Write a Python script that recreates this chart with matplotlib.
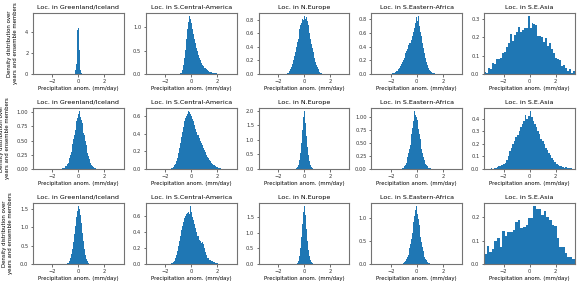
import numpy as np
import matplotlib
matplotlib.use("Agg")
import matplotlib.pyplot as plt
from matplotlib.ticker import MaxNLocator

regions = ["Greenland/Iceland", "S.Central-America", "N.Europe", "S.Eastern-Africa", "S.E.Asia"]
ylabel_text = "Density distribution over\nyears and ensemble members"
xlabel_text = "Precipitation anom. (mm/day)"

# ---- row 1 ----
r1_starts = [-0.30, -0.90, -1.40, -2.00, -3.50]
r1_widths = [0.05, 0.08, 0.07, 0.08, 7 / 46]
r1c1 = [0.15, 0.35, 0.9, 2.2, 4.2, 5.5, 4.4, 2.3, 0.9, 0.35, 0.12, 0.05]
r1c2 = [0.01, 0.03, 0.08, 0.18, 0.33, 0.52, 0.74, 0.95, 1.12, 1.24, 1.18, 1.08, 0.97, 0.86,
        0.74, 0.66, 0.56, 0.48, 0.41, 0.35, 0.29, 0.24, 0.2, 0.16, 0.13, 0.1, 0.08, 0.065,
        0.05, 0.04, 0.032, 0.025, 0.02, 0.015, 0.012, 0.01, 0.007, 0.005, 0.004, 0.003,
        0.0, 0.003, 0.0, 0.0, 0.003, 0.0]
r1c3 = [0.005, 0.01, 0.02, 0.03, 0.05, 0.07, 0.1, 0.14, 0.2, 0.26, 0.32, 0.4, 0.47, 0.52,
        0.6, 0.66, 0.72, 0.76, 0.82, 0.8, 0.86, 0.82, 0.84, 0.78, 0.72, 0.66, 0.6, 0.52,
        0.44, 0.38, 0.32, 0.24, 0.18, 0.13, 0.1, 0.07, 0.05, 0.03, 0.02, 0.01, 0.005]
r1c4 = [0.005, 0.01, 0.015, 0.02, 0.03, 0.04, 0.05, 0.07, 0.09, 0.11, 0.14, 0.17, 0.2, 0.24,
        0.3, 0.34, 0.37, 0.42, 0.46, 0.5, 0.56, 0.62, 0.68, 0.74, 0.84, 0.78, 0.85, 0.7,
        0.62, 0.55, 0.45, 0.38, 0.3, 0.24, 0.18, 0.13, 0.09, 0.06, 0.04, 0.03, 0.02, 0.012,
        0.008, 0.005, 0.003, 0.002, 0.001]
r1c5 = [0.009, 0.004, 0.033, 0.026, 0.061, 0.056, 0.081, 0.08, 0.087, 0.115, 0.118, 0.144,
        0.17, 0.218, 0.181, 0.213, 0.23, 0.255, 0.226, 0.237, 0.248, 0.248, 0.315, 0.248,
        0.274, 0.27, 0.268, 0.207, 0.207, 0.198, 0.174, 0.193, 0.154, 0.167, 0.135, 0.115,
        0.089, 0.083, 0.074, 0.044, 0.05, 0.033, 0.018, 0.026, 0.007, 0.015]

# ---- row 2 ----
r2_starts = [-1.30, -1.60, -0.64, -1.20, -3.00]
r2_widths = [0.06, 0.08, 0.04, 0.06, 0.12]
r2c1 = [0.005, 0.01, 0.015, 0.02, 0.03, 0.045, 0.06, 0.08, 0.11, 0.15, 0.19, 0.24, 0.3,
        0.37, 0.44, 0.52, 0.6, 0.68, 0.76, 0.84, 0.9, 0.96, 1.02, 0.95, 0.92, 0.86, 0.8,
        0.72, 0.64, 0.6, 0.5, 0.42, 0.35, 0.28, 0.22, 0.17, 0.13, 0.1, 0.07, 0.05, 0.035,
        0.025, 0.015, 0.01, 0.005]
r2c2 = [0.005, 0.01, 0.02, 0.04, 0.06, 0.09, 0.13, 0.18, 0.24, 0.3, 0.36, 0.42, 0.48, 0.54,
        0.58, 0.6, 0.62, 0.66, 0.65, 0.63, 0.6, 0.57, 0.54, 0.5, 0.46, 0.42, 0.39, 0.35,
        0.32, 0.29, 0.27, 0.24, 0.22, 0.19, 0.16, 0.14, 0.12, 0.1, 0.085, 0.07, 0.06, 0.05,
        0.04, 0.03, 0.025, 0.02, 0.015, 0.01, 0.008, 0.005, 0.004, 0.003, 0.002, 0.0, 0.002]
r2c3 = [0.01, 0.02, 0.04, 0.07, 0.1, 0.15, 0.22, 0.3, 0.4, 0.55, 0.7, 0.88, 1.1, 1.35, 1.6,
        1.8, 2.0, 1.85, 1.6, 1.4, 1.15, 0.95, 0.75, 0.6, 0.47, 0.36, 0.27, 0.2, 0.15, 0.1,
        0.07, 0.05, 0.035, 0.025, 0.015, 0.01, 0.005, 0.003]
r2c4 = [0.005, 0.01, 0.02, 0.03, 0.05, 0.08, 0.12, 0.17, 0.23, 0.3, 0.38, 0.47, 0.57, 0.68,
        0.8, 0.92, 1.02, 1.12, 1.05, 1.0, 0.95, 0.88, 0.78, 0.68, 0.58, 0.48, 0.39, 0.31,
        0.24, 0.18, 0.13, 0.1, 0.07, 0.05, 0.035, 0.025, 0.015, 0.01, 0.007, 0.004, 0.002,
        0.001]
r2c5 = [0.005, 0.0, 0.01, 0.01, 0.015, 0.02, 0.025, 0.03, 0.04, 0.05, 0.07, 0.1, 0.14, 0.17,
        0.2, 0.22, 0.25, 0.27, 0.3, 0.33, 0.36, 0.38, 0.43, 0.4, 0.42, 0.46, 0.41, 0.38,
        0.36, 0.33, 0.3, 0.28, 0.24, 0.22, 0.2, 0.17, 0.15, 0.13, 0.11, 0.09, 0.07, 0.055,
        0.04, 0.03, 0.02, 0.025, 0.015, 0.01, 0.012, 0.008, 0.005, 0.006, 0.003]

# ---- row 3 ----
r3_starts = [-0.96, -1.60, -0.64, -1.16, -3.50]
r3_widths = [0.04, 0.08, 0.04, 0.06, 0.20]
r3c1 = [0.005, 0.01, 0.02, 0.03, 0.04, 0.06, 0.08, 0.11, 0.15, 0.2, 0.26, 0.33, 0.41, 0.5,
        0.6, 0.7, 0.82, 0.93, 1.04, 1.15, 1.26, 1.36, 1.44, 1.5, 1.57, 1.5, 1.42, 1.33,
        1.22, 1.1, 0.98, 0.85, 0.73, 0.62, 0.51, 0.41, 0.33, 0.25, 0.19, 0.14, 0.1, 0.07,
        0.05, 0.03, 0.02, 0.01, 0.005]
r3c2 = [0.005, 0.01, 0.02, 0.04, 0.07, 0.11, 0.16, 0.22, 0.28, 0.35, 0.42, 0.47, 0.52, 0.57,
        0.6, 0.62, 0.63, 0.65, 0.62, 0.72, 0.64, 0.58, 0.54, 0.5, 0.45, 0.4, 0.35, 0.3,
        0.28, 0.26, 0.27, 0.25, 0.2, 0.15, 0.11, 0.08, 0.07, 0.05, 0.045, 0.04, 0.035, 0.03,
        0.02, 0.015, 0.01, 0.008, 0.005, 0.005, 0.003]
r3c3 = [0.005, 0.01, 0.02, 0.04, 0.07, 0.11, 0.17, 0.25, 0.36, 0.5, 0.66, 0.85, 1.05, 1.27,
        1.48, 1.66, 1.85, 1.75, 1.55, 1.35, 1.12, 0.92, 0.73, 0.57, 0.44, 0.33, 0.25, 0.18,
        0.13, 0.09, 0.06, 0.04, 0.03, 0.02, 0.012, 0.008, 0.004]
r3c4 = [0.005, 0.01, 0.02, 0.035, 0.055, 0.08, 0.11, 0.15, 0.2, 0.27, 0.35, 0.44, 0.55, 0.67,
        0.8, 0.93, 1.06, 1.18, 1.27, 1.2, 1.1, 0.98, 0.85, 0.72, 0.6, 0.48, 0.38, 0.29,
        0.22, 0.16, 0.12, 0.08, 0.055, 0.035, 0.022, 0.013, 0.008, 0.004]
r3c5 = [0.042, 0.076, 0.05, 0.066, 0.10, 0.113, 0.073, 0.14, 0.12, 0.138, 0.137, 0.147,
        0.18, 0.188, 0.155, 0.16, 0.168, 0.197, 0.196, 0.248, 0.237, 0.234, 0.208, 0.228,
        0.203, 0.19, 0.166, 0.163, 0.113, 0.073, 0.073, 0.049, 0.031, 0.028, 0.023]

rows = [
    (r1_starts, r1_widths, [r1c1, r1c2, r1c3, r1c4, r1c5]),
    (r2_starts, r2_widths, [r2c1, r2c2, r2c3, r2c4, r2c5]),
    (r3_starts, r3_widths, [r3c1, r3c2, r3c3, r3c4, r3c5]),
]

W, H = 580, 287
fig = plt.figure(figsize=(W / 100, H / 100), dpi=100)
gs = fig.add_gridspec(3, 5, left=33 / W, right=575 / W, top=1 - 13 / H, bottom=1 - 264 / H,
                      wspace=0.24, hspace=0.56)

bar_color = "#1f77b4"
for r, (starts, widths, series) in enumerate(rows):
    for c, vals in enumerate(series):
        ax = fig.add_subplot(gs[r, c])
        vals = np.asarray(vals, dtype=float)
        edges = starts[c] + widths[c] * np.arange(len(vals) + 1)
        ax.stairs(vals, edges, fill=True, color=bar_color, linewidth=0)
        ax.set_xlim(-3.5, 3.5)
        ax.set_ylim(0, vals.max() * 1.05)
        ax.set_xticks([-2, 0, 2])
        ax.yaxis.set_major_locator(MaxNLocator(nbins=5, steps=[1, 2, 2.5, 5, 10]))
        ax.set_title("Loc. in " + regions[c], fontsize=4.6, pad=3)
        ax.set_xlabel(xlabel_text, fontsize=3.9, labelpad=2)
        if c == 0:
            ax.set_ylabel(ylabel_text, fontsize=3.9, labelpad=5)
        ax.tick_params(labelsize=3.7, length=1.8, width=0.5, pad=1.5, colors="0.2")
        for s in ax.spines.values():
            s.set_color("0.45")
            s.set_linewidth(0.8)

fig.savefig("out.png", dpi=100)
